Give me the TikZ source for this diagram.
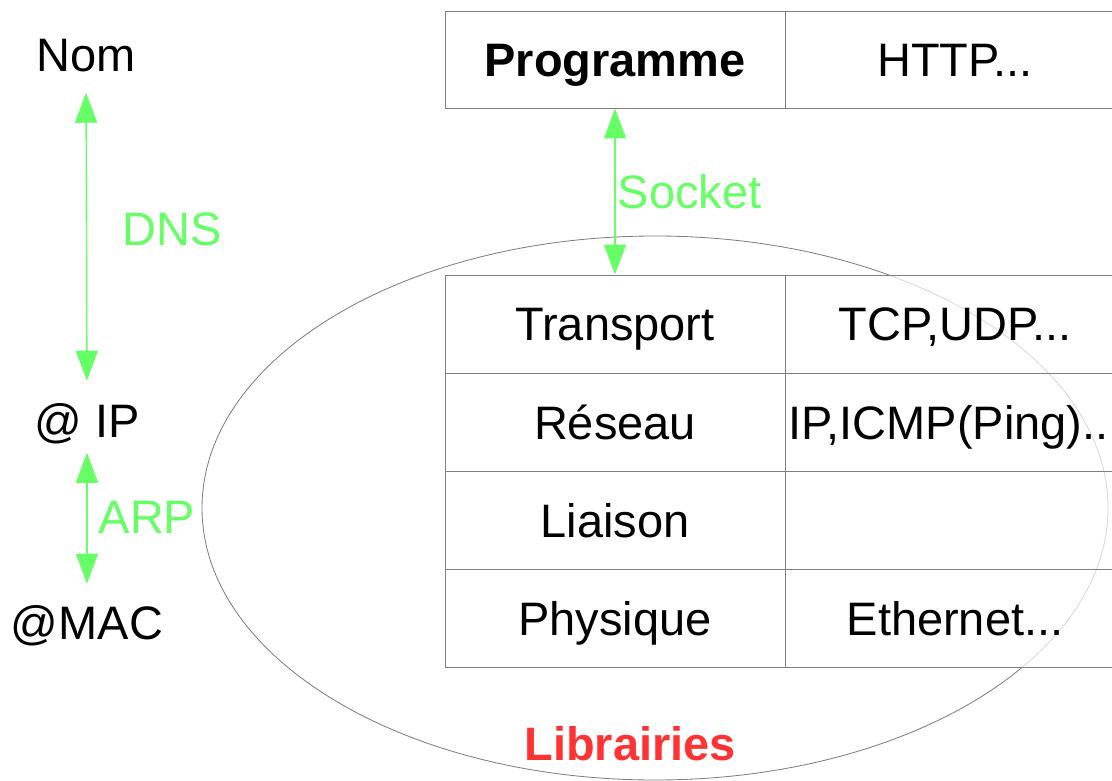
\documentclass[tikz,border=0pt]{standalone}
\usepackage{fontspec}
\setmainfont{Liberation Sans}
\usepackage{tikz}
\usetikzlibrary{arrows.meta}
\definecolor{vertlien}{HTML}{66FF66}
\definecolor{rougelib}{HTML}{FF3333}
\definecolor{grislig}{HTML}{808080}

\begin{document}
\begin{tikzpicture}[every node/.style={font=\fontsize{33.4}{40}\selectfont, inner sep=0pt}]
  \tikzset{couche/.style={draw=grislig, line width=0.7pt, fill=white, fill opacity=0.7, text opacity=1, minimum width=8.5cm, minimum height=2.456cm, text height=23.9pt, text depth=0pt}}
  \tikzset{lien/.style={{Triangle[length=0.75cm,width=0.55cm]}-{Triangle[length=0.75cm,width=0.55cm]}, draw=vertlien, line width=1pt}}
  \tikzset{etiq/.style={text=vertlien, anchor=west}}
  \useasboundingbox (0,0) rectangle (27.8,-19.525);

  % librairies
  \draw[grislig, line width=0.6pt] (16.375,-12.7) ellipse [x radius=11.325, y radius=6.8];

  % adresses
  \node[anchor=base] (nom) at (2.15, -1.8) {Nom};
  \node[anchor=base] (ip) at (2.175, -10.925) {@ IP};
  \node[anchor=base] (mac) at (2.175, -15.975) {@MAC};

  % couches
  \node[couche, minimum height=2.425cm] (prog) at (15.375, -1.4875) {\textbf{Programme}};
  \node[couche, minimum height=2.425cm] (http) at (23.875, -1.4875) {HTTP...};
  \node[couche] (transp) at (15.375, -8.103) {Transport};
  \node[couche] (tcp) at (23.875, -8.103) {TCP,UDP...};
  \node[couche] (reseau) at (15.375, -10.56) {Réseau};
  \node[couche] (icmp) at (23.875, -10.56) {IP,ICMP(Ping)...};
  \node[couche] (liaison) at (15.375, -13.016) {Liaison};
  \node[couche] (liaisonb) at (23.875, -13.016) {};
  \node[couche] (phys) at (15.375, -15.47) {Physique};
  \node[couche] (eth) at (23.875, -15.47) {Ethernet...};

  \node[anchor=base, text=rougelib] (lib) at (15.75, -19.0) {\textbf{Librairies}};

  % liens
  \path (nom.south) edge [lien, shorten <=0.5cm, shorten >=0.55cm] node[etiq, xshift=0.875cm, yshift=0.2cm] {DNS} (ip.north);
  \path (ip.south) edge [lien, shorten <=0.225cm, shorten >=0.525cm] node[etiq, xshift=0.275cm, yshift=0.175cm] {ARP} (mac.north);
  \path (prog.south) edge [lien] node[etiq, xshift=0.05cm] {Socket} (transp.north);
\end{tikzpicture}
\end{document}
